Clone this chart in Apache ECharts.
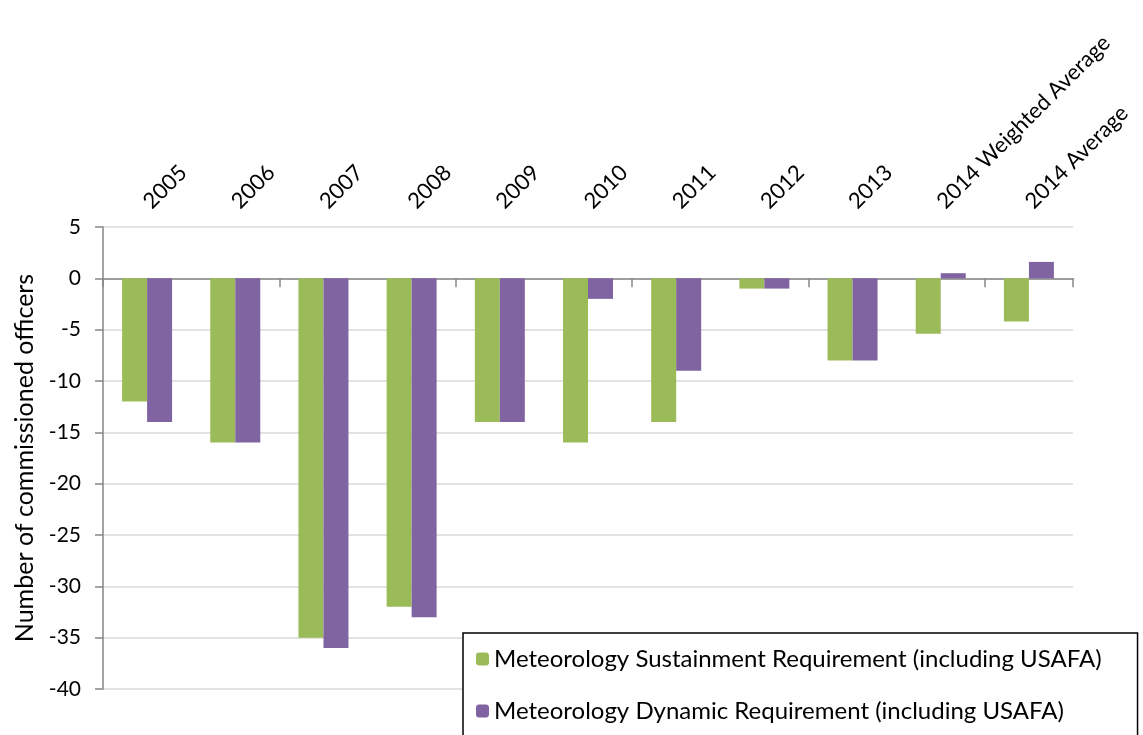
<!DOCTYPE html>
<html>
<head>
<meta charset="utf-8">
<script src="https://cdn.jsdelivr.net/npm/echarts@6/dist/echarts.min.js"></script>
<style>
  html, body { margin: 0; padding: 0; background: #fff; }
  #main { width: 1143px; height: 735px; }
</style>
</head>
<body>
<div id="main"></div>
<script>
// data
const categories = ['2005', '2006', '2007', '2008', '2009', '2010', '2011', '2012', '2013', '2014 Weighted Average', '2014 Average'];
const sustainment = [-12, -16, -35, -32, -14, -16, -14, -1, -8, -5.4, -4.2];
const dynamic = [-14, -16, -36, -33, -14, -2, -9, -1, -8, 0.5, 1.6];
const yTicks = { min: -40, max: 5, step: 5 };

const font = 'Lato, "Open Sans", sans-serif';

const chart = echarts.init(document.getElementById('main'), null, { renderer: 'canvas' });

const option = {
    animation: false,
    textStyle: { fontFamily: font },
    grid: { left: 103, right: 70, top: 227, bottom: 46, containLabel: false },
    legend: {
        orient: 'vertical',
        left: 463,
        top: 633,
        width: 700,
        height: 160,
        padding: [13, 36, 40, 13],
        itemWidth: 13,
        itemHeight: 13,
        itemGap: 26,
        backgroundColor: '#fff',
        borderColor: '#000',
        borderWidth: 1.5,
        textStyle: { fontFamily: font, fontSize: 24, color: '#000', lineHeight: 26 },
        data: ['Meteorology Sustainment Requirement (including USAFA)', 'Meteorology Dynamic Requirement (including USAFA)']
    },
    xAxis: [
        {
            type: 'category',
            data: categories,
            position: 'bottom',
            axisLine: { onZero: true, lineStyle: { color: '#868686', width: 1.5 } },
            axisTick: { show: true, length: 9, lineStyle: { color: '#868686', width: 1.5 } },
            axisLabel: { show: false }
        },
        {
            type: 'category',
            data: categories,
            position: 'top',
            axisLine: { show: false },
            axisTick: { show: false },
            axisLabel: {
                rotate: -45,
                margin: 22,
                fontFamily: font,
                fontSize: 22,
                color: '#000'
            }
        }
    ],
    yAxis: {
        type: 'value',
        min: yTicks.min,
        max: yTicks.max,
        interval: yTicks.step,
        name: 'Number of commissioned officers',
        nameLocation: 'middle',
        nameGap: 66,
        nameTextStyle: { fontFamily: font, fontSize: 25, color: '#000' },
        axisLine: { show: true, lineStyle: { color: '#868686', width: 1.5 } },
        axisTick: { show: true, length: 8, lineStyle: { color: '#868686', width: 1.5 } },
        axisLabel: { margin: 22, fontFamily: font, fontSize: 21, color: '#000' },
        splitLine: { lineStyle: { color: '#d9d9d9', width: 1.5 } }
    },
    series: [
        {
            name: 'Meteorology Sustainment Requirement (including USAFA)',
            type: 'bar',
            xAxisIndex: 0,
            data: sustainment,
            barWidth: 25,
            barGap: '0%',
            itemStyle: { color: '#9BBB59' }
        },
        {
            name: 'Meteorology Dynamic Requirement (including USAFA)',
            type: 'bar',
            xAxisIndex: 0,
            data: dynamic,
            barWidth: 25,
            barGap: '0%',
            itemStyle: { color: '#8064A2' }
        }
    ]
};

chart.setOption(option);
window.addEventListener('resize', chart.resize);
</script>
</body>
</html>
